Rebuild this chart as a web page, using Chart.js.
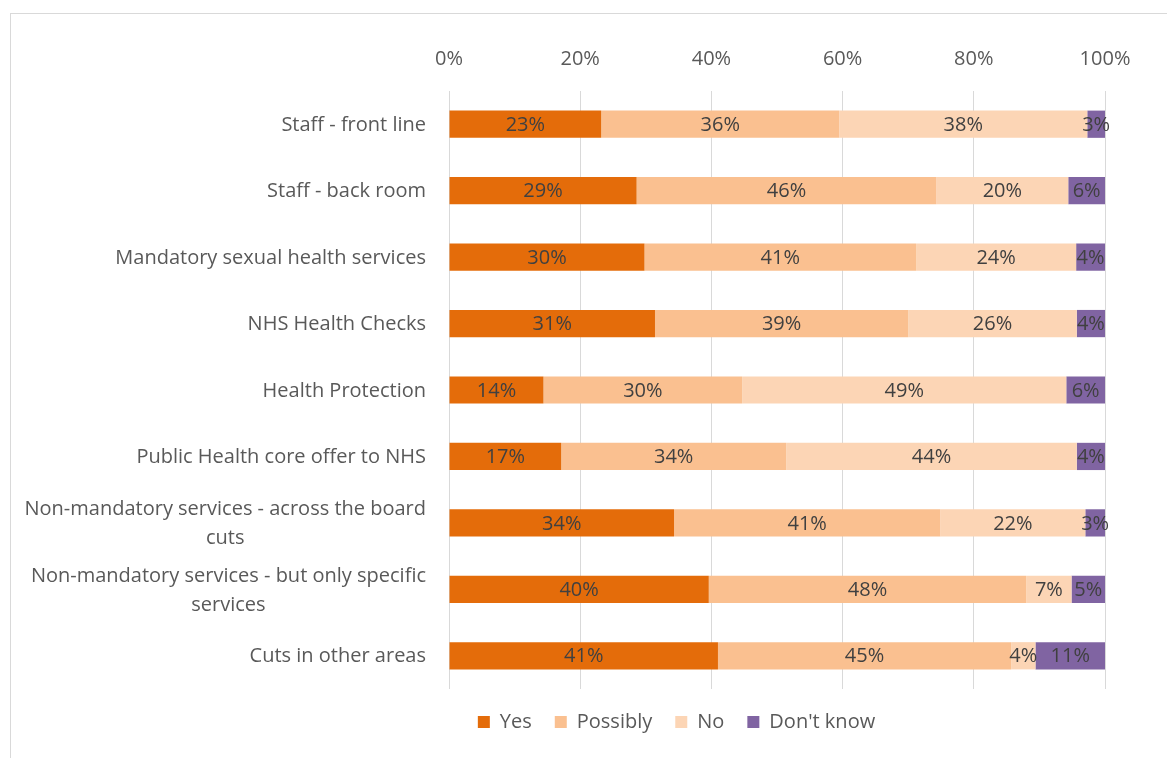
<!DOCTYPE html>
<html>
<head>
<meta charset="utf-8">
<script src="https://cdn.jsdelivr.net/npm/chart.js@4.4.1/dist/chart.umd.min.js"></script>
<style>
  html, body { margin: 0; padding: 0; background: #fff; overflow: hidden; }
  #frame {
    position: absolute; left: 10px; top: 13px;
    width: 1170px; height: 760px;
    border: 1px solid #d9d9d9;
  }
  #wrap { position: absolute; left: 0; top: 0; width: 1167px; height: 758px; }
</style>
</head>
<body>
<div id="frame"></div>
<div id="wrap"><canvas id="c"></canvas></div>
<script>
// categories (top to bottom)
const categories = [
  'Staff - front line',
  'Staff - back room',
  'Mandatory sexual health services',
  'NHS Health Checks',
  'Health Protection',
  'Public Health core offer to NHS',
  ['Non-mandatory services - across the board', 'cuts'],
  ['Non-mandatory services - but only specific', 'services'],
  'Cuts in other areas'
];

// percentages
const yesValues      = [23.2, 28.6, 29.8, 31.4, 14.4, 17.1, 34.3, 39.6, 41.0];
const possiblyValues = [36.3, 45.7, 41.4, 38.6, 30.3, 34.3, 40.6, 48.4, 44.7];
const noValues       = [37.8, 20.1, 24.4, 25.7, 49.4, 44.3, 22.1, 6.9, 3.7];
const dontKnowValues = [2.7, 5.6, 4.4, 4.3, 5.9, 4.3, 3.0, 5.1, 10.6];

const xTicks = [0, 20, 40, 60, 80, 100];

const FONT = '"Open Sans", "Liberation Sans", sans-serif';
const FONT_SIZE = 20;
const AXIS_TEXT = '#595959';
const LABEL_TEXT = '#404040';

/* data labels centred in each segment */
const segmentLabels = {
  id: 'segmentLabels',
  afterDatasetsDraw(chart) {
    const ctx = chart.ctx;
    ctx.save();
    ctx.font = FONT_SIZE + 'px ' + FONT;
    ctx.fillStyle = LABEL_TEXT;
    ctx.textAlign = 'center';
    ctx.textBaseline = 'middle';
    chart.data.datasets.forEach((ds, di) => {
      const meta = chart.getDatasetMeta(di);
      meta.data.forEach((bar, i) => {
        const { x, y, base } = bar.getProps(['x', 'y', 'base'], true);
        ctx.fillText(Math.round(ds.data[i]) + '%', (x + base) / 2, y + 1);
      });
    });
    ctx.restore();
  }
};

/* category labels: block right-aligned, lines centred inside block */
const categoryLabels = {
  id: 'categoryLabels',
  afterDraw(chart) {
    const ctx = chart.ctx;
    const yScale = chart.scales.y;
    const rightEdge = chart.chartArea.left - 23;
    const lineH = 29;
    ctx.save();
    ctx.font = FONT_SIZE + 'px ' + FONT;
    ctx.fillStyle = AXIS_TEXT;
    ctx.textAlign = 'center';
    ctx.textBaseline = 'middle';
    categories.forEach((label, i) => {
      const lines = Array.isArray(label) ? label : [label];
      const w = Math.max(...lines.map(l => ctx.measureText(l).width));
      const cx = rightEdge - w / 2;
      const cy = yScale.getPixelForValue(i);
      lines.forEach((l, li) => {
        ctx.fillText(l, cx, cy + (li - (lines.length - 1) / 2) * lineH + 1);
      });
    });
    ctx.restore();
  }
};

/* legend sits a bit right of the canvas centre, as in the source */
const legendShift = {
  id: 'legendShift',
  afterLayout(chart) {
    const lg = chart.legend;
    if (!lg) return;
    lg.left += 124;
    lg.right += 124;
  }
};

const ds = (label, data, color) => ({
  label, data,
  backgroundColor: color,
  borderWidth: 0,
  barPercentage: 0.82,
  categoryPercentage: 0.5
});

new Chart(document.getElementById('c'), {
  type: 'bar',
  data: {
    labels: categories,
    datasets: [
      ds('Yes', yesValues, '#E46C0A'),
      ds('Possibly', possiblyValues, '#FAC090'),
      ds('No', noValues, '#FCD5B5'),
      ds("Don't know", dontKnowValues, '#8064A2')
    ]
  },
  options: {
    indexAxis: 'y',
    responsive: true,
    maintainAspectRatio: false,
    animation: false,
    layout: { padding: { left: 0, right: 62, top: 20, bottom: 16 } },
    scales: {
      x: {
        position: 'top',
        stacked: true,
        min: 0, max: 100,
        afterBuildTicks: s => { s.ticks = xTicks.map(v => ({ value: v })); },
        afterFit: s => { s.height = 71; },
        grid: { color: '#d9d9d9', lineWidth: 1, drawTicks: false },
        border: { display: false },
        ticks: {
          color: AXIS_TEXT,
          font: { family: FONT, size: FONT_SIZE },
          padding: 20,
          maxRotation: 0,
          callback: v => v + '%'
        }
      },
      y: {
        stacked: true,
        afterFit: s => { s.width = 449; },
        grid: { display: false, drawTicks: false },
        border: { display: false },
        ticks: { display: false }
      }
    },
    plugins: {
      tooltip: { enabled: false },
      legend: {
        position: 'bottom',
        labels: {
          color: AXIS_TEXT,
          font: { family: FONT, size: FONT_SIZE },
          boxWidth: 12,
          boxHeight: 12,
          padding: 23
        }
      }
    }
  },
  plugins: [segmentLabels, categoryLabels, legendShift]
});
</script>
</body>
</html>
